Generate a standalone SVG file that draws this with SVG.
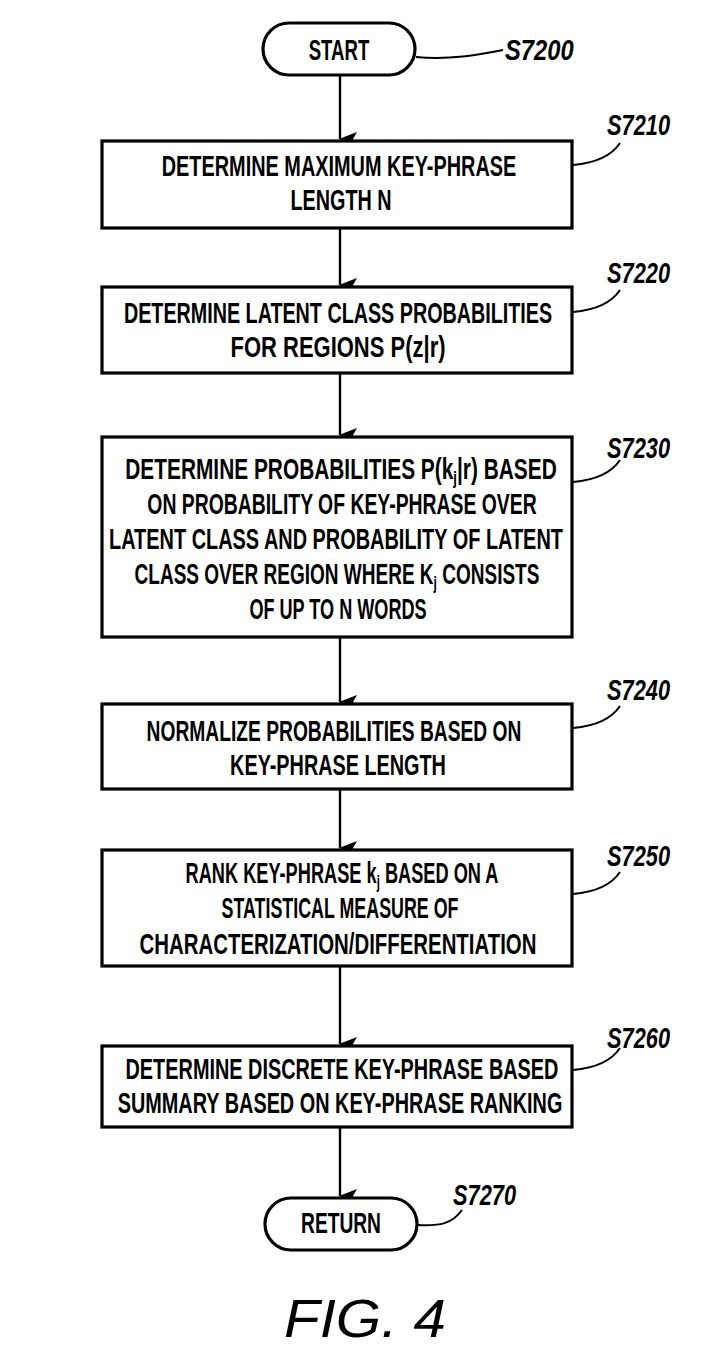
<svg xmlns="http://www.w3.org/2000/svg" width="702" height="1370" viewBox="0 0 702 1370">
<style>
.box{fill:#fff;stroke:#000;stroke-width:3.2}
.t{font-family:"Liberation Sans",Arial,sans-serif;font-weight:bold;font-size:30px;text-anchor:middle;fill:#000}
.lbl{font-family:"Liberation Sans",Arial,sans-serif;font-weight:bold;font-style:italic;font-size:29px;fill:#000}
.ld{fill:none;stroke:#000;stroke-width:2}
.ar{fill:none;stroke:#000;stroke-width:2.4}
.sub{font-size:19px}
</style>
<defs>
<marker id="ah" markerWidth="14" markerHeight="18" refX="7" refY="17" orient="auto-start-reverse" markerUnits="userSpaceOnUse" viewBox="0 0 14 18">
<path d="M0,0 L7,18 L14,0 L7,4 Z" fill="#000"/>
</marker>
</defs>
<g id="connectors">
<line class="ar" x1="340" y1="75" x2="340" y2="139" marker-end="url(#ah)"/>
<line class="ar" x1="340" y1="228" x2="340" y2="285" marker-end="url(#ah)"/>
<line class="ar" x1="340" y1="373" x2="340" y2="435" marker-end="url(#ah)"/>
<line class="ar" x1="340" y1="637" x2="340" y2="702" marker-end="url(#ah)"/>
<line class="ar" x1="340" y1="789" x2="340" y2="848" marker-end="url(#ah)"/>
<line class="ar" x1="340" y1="966" x2="340" y2="1044" marker-end="url(#ah)"/>
<line class="ar" x1="340" y1="1127" x2="340" y2="1196" marker-end="url(#ah)"/>
</g>
<g id="start">
<rect class="box" x="263" y="23" width="152" height="52" rx="26"/>
<text class="t" transform="translate(339,60) scale(0.62,1)">START</text>
<path class="ld" d="M416,57 C450,60 478,55 503,50"/>
<text class="lbl" transform="translate(505,60) scale(0.82,1)">S7200</text>
</g>
<g id="s7210">
<rect class="box" x="102" y="141" width="470" height="87"/>
<text class="t" transform="translate(339,176) scale(0.663,1)">DETERMINE MAXIMUM KEY-PHRASE</text>
<text class="t" transform="translate(341,210) scale(0.659,1)">LENGTH N</text>
<path class="ld" d="M573,165 C596,163 612,155 620,143"/>
<text class="lbl" transform="translate(607,135) scale(0.752,1)">S7210</text>
</g>
<g id="s7220">
<rect class="box" x="102" y="287" width="470" height="86"/>
<text class="t" transform="translate(338,323) scale(0.658,1)">DETERMINE LATENT CLASS PROBABILITIES</text>
<text class="t" transform="translate(338,357) scale(0.733,1)">FOR REGIONS P(z|r)</text>
<path class="ld" d="M573,312 C596,310 612,302 620,290"/>
<text class="lbl" transform="translate(607,283) scale(0.752,1)">S7220</text>
</g>
<g id="s7230">
<rect class="box" x="102" y="437" width="470" height="200"/>
<text class="t" transform="translate(341,479) scale(0.696,1)">DETERMINE PROBABILITIES P(k<tspan class="sub" dy="5">j</tspan><tspan dy="-5">|r) BASED</tspan></text>
<text class="t" transform="translate(342,514) scale(0.646,1)">ON PROBABILITY OF KEY-PHRASE OVER</text>
<text class="t" transform="translate(336,549) scale(0.664,1)">LATENT CLASS AND PROBABILITY OF LATENT</text>
<text class="t" transform="translate(337,584) scale(0.634,1)">CLASS OVER REGION WHERE K<tspan class="sub" dy="5">j</tspan><tspan dy="-5"> CONSISTS</tspan></text>
<text class="t" transform="translate(338,619) scale(0.603,1)">OF UP TO N WORDS</text>
<path class="ld" d="M573,482 C596,480 612,472 620,460"/>
<text class="lbl" transform="translate(607,458) scale(0.752,1)">S7230</text>
</g>
<g id="s7240">
<rect class="box" x="102" y="704" width="470" height="85"/>
<text class="t" transform="translate(334,741) scale(0.641,1)">NORMALIZE PROBABILITIES BASED ON</text>
<text class="t" transform="translate(338,775) scale(0.661,1)">KEY-PHRASE LENGTH</text>
<path class="ld" d="M573,728 C596,726 612,718 620,706"/>
<text class="lbl" transform="translate(607,700) scale(0.752,1)">S7240</text>
</g>
<g id="s7250">
<rect class="box" x="102" y="850" width="470" height="116"/>
<text class="t" transform="translate(342,883) scale(0.607,1)">RANK KEY-PHRASE k<tspan class="sub" dy="5">j</tspan><tspan dy="-5"> BASED ON A</tspan></text>
<text class="t" transform="translate(340,918) scale(0.595,1)">STATISTICAL MEASURE OF</text>
<text class="t" transform="translate(338,954) scale(0.68,1)">CHARACTERIZATION/DIFFERENTIATION</text>
<path class="ld" d="M573,894 C596,892 612,884 620,872"/>
<text class="lbl" transform="translate(607,866) scale(0.752,1)">S7250</text>
</g>
<g id="s7260">
<rect class="box" x="102" y="1046" width="470" height="81"/>
<text class="t" transform="translate(342,1079) scale(0.663,1)">DETERMINE DISCRETE KEY-PHRASE BASED</text>
<text class="t" transform="translate(340,1113) scale(0.662,1)">SUMMARY BASED ON KEY-PHRASE RANKING</text>
<path class="ld" d="M573,1070 C596,1068 612,1060 620,1048"/>
<text class="lbl" transform="translate(607,1048) scale(0.752,1)">S7260</text>
</g>
<g id="return">
<rect class="box" x="265" y="1198" width="152" height="52" rx="26"/>
<text class="t" transform="translate(341,1233) scale(0.64,1)">RETURN</text>
<path class="ld" d="M418,1225 C440,1226 452,1224 462,1210"/>
<text class="lbl" transform="translate(453,1205) scale(0.752,1)">S7270</text>
</g>
<text transform="translate(365,1337) scale(1.1,1)" font-family="Liberation Sans, Arial, sans-serif" font-style="italic" font-size="53" text-anchor="middle">FIG. 4</text>
</svg>
